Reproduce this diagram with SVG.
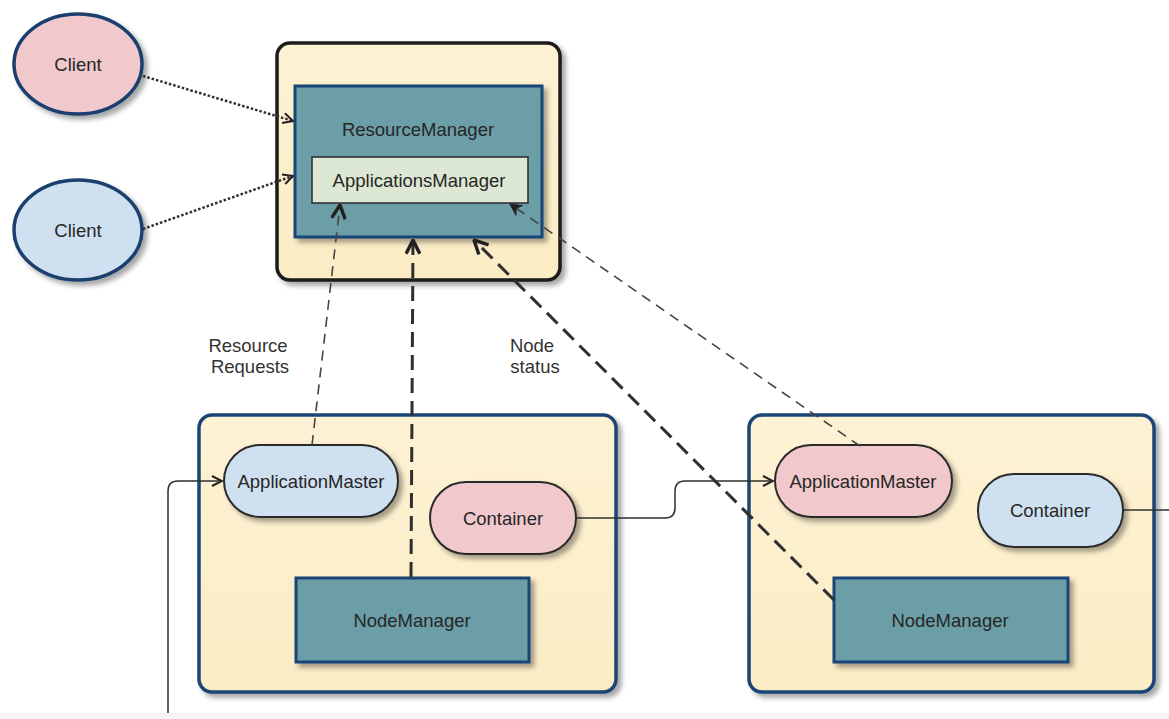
<svg xmlns="http://www.w3.org/2000/svg" width="1169" height="719" viewBox="0 0 1169 719">
<style>
text{font-family:"Liberation Sans",Arial,sans-serif;font-size:18.5px;fill:#262626;text-anchor:middle;dominant-baseline:central}
.lbl{fill:#333}
.host{fill:url(#yel);stroke:#1b4477;stroke-width:3.5}
.rmhost{fill:url(#yel);stroke:#1a1a1a;stroke-width:3.5}
.teal{fill:#6c9ea8;stroke:#1b4477;stroke-width:3}
.am{fill:#dce7d4;stroke:#2a2a2a;stroke-width:1.5}
.pink{fill:#f1c8cb;stroke:#2b2b2b;stroke-width:2}
.blue{fill:#cfe0f1;stroke:#2b2b2b;stroke-width:2}
.cl{stroke:#1b3f6e;stroke-width:3.5}
.conn{fill:none;stroke:#2f2f2f}
.dot{stroke-width:2.5;stroke-dasharray:2.5 2}
.thin{stroke-width:1.6;stroke-dasharray:10 7;stroke:#444}
.thick{stroke-width:3;stroke-dasharray:15 8}
.solid{stroke-width:1.5}
</style>
<defs>
<linearGradient id="yel" x1="0" y1="0" x2="0" y2="1">
<stop offset="0" stop-color="#fdf2d4"/>
<stop offset="1" stop-color="#fbecc4"/>
</linearGradient>
<filter id="sh" x="-10%" y="-10%" width="130%" height="130%">
<feDropShadow dx="4" dy="4" stdDeviation="2.5" flood-color="#000" flood-opacity="0.35"/>
</filter>
<marker id="arr" viewBox="0 0 12 12" refX="11" refY="6" markerWidth="12" markerHeight="12" markerUnits="userSpaceOnUse" orient="auto">
<path d="M1,1 L11,6 L1,11" fill="none" stroke="#222" stroke-width="2"/>
</marker>
<marker id="arrB" viewBox="0 0 14 14" refX="13" refY="7" markerWidth="16" markerHeight="16" markerUnits="userSpaceOnUse" orient="auto">
<path d="M1,1 L13,7 L1,13" fill="none" stroke="#222" stroke-width="3"/>
</marker>
<marker id="arrF" viewBox="0 0 12 12" refX="11" refY="6" markerWidth="13" markerHeight="13" markerUnits="userSpaceOnUse" orient="auto">
<path d="M1,1 L11,6 L1,11 L4,6 Z" fill="#222" stroke="#222" stroke-width="1"/>
</marker>
</defs>
<rect x="0" y="713" width="1169" height="6" fill="#f5f5f5"/>

<g id="client1"><ellipse cx="78" cy="64" rx="64" ry="50" fill="#f1c8cb" class="cl" filter="url(#sh)"/><text x="78" y="64">Client</text></g>
<g id="client2"><ellipse cx="78" cy="230" rx="64" ry="50" fill="#cfe0f1" class="cl" filter="url(#sh)"/><text x="78" y="230">Client</text></g>

<g id="rm-host"><rect x="277" y="43" width="283" height="237" rx="13" class="rmhost" filter="url(#sh)"/></g>
<g id="resourcemanager"><rect x="295" y="86" width="247" height="151" class="teal" filter="url(#sh)"/><text x="418" y="129">ResourceManager</text></g>
<g id="applicationsmanager"><rect x="312" y="157" width="216" height="46" class="am"/><text x="419" y="180">ApplicationsManager</text></g>

<g id="node1-host"><rect x="199" y="415" width="417" height="277" rx="13" class="host" filter="url(#sh)"/></g>
<g id="am1"><rect x="224" y="445" width="174" height="72" rx="36" class="blue" filter="url(#sh)"/><text x="311" y="481">ApplicationMaster</text></g>
<g id="container1"><rect x="430" y="482" width="146" height="72" rx="36" class="pink" filter="url(#sh)"/><text x="503" y="518">Container</text></g>
<g id="nm1"><rect x="296" y="578" width="233" height="84" class="teal" filter="url(#sh)"/><text x="412" y="620">NodeManager</text></g>

<g id="node2-host"><rect x="749" y="415" width="405" height="277" rx="13" class="host" filter="url(#sh)"/></g>
<g id="am2"><rect x="775" y="445" width="177" height="72" rx="36" class="pink" filter="url(#sh)"/><text x="863" y="481">ApplicationMaster</text></g>
<g id="container2"><rect x="978" y="474" width="145" height="73" rx="36" class="blue" filter="url(#sh)"/><text x="1050" y="510">Container</text></g>
<g id="nm2"><rect x="834" y="578" width="234" height="84" class="teal" filter="url(#sh)"/><text x="950" y="620">NodeManager</text></g>

<g id="connectors">
<path class="conn dot" d="M143,76 L293,121" marker-end="url(#arr)"/>
<path class="conn dot" d="M143,229 L293,176" marker-end="url(#arr)"/>
<path class="conn thin" d="M312,445 L340,205" marker-end="url(#arrB)"/>
<path class="conn thick" d="M411,577 L413,240" marker-end="url(#arrB)"/>
<path class="conn thick" d="M834,600 L474,240" marker-end="url(#arrB)"/>
<path class="conn thin" d="M860,446 L510,204" marker-end="url(#arrF)"/>
<path class="conn solid" d="M576,518 L665,518 Q675,518 675,508 L675,491 Q675,481 685,481 L773,481" marker-end="url(#arr)"/>
<path class="conn solid" d="M1123,510 L1169,510"/>
<path class="conn solid" d="M168,713 L168,491 Q168,481 178,481 L222,481" marker-end="url(#arr)"/>
</g>

<g id="labels">
<text class="lbl" x="248" y="345">Resource</text>
<text class="lbl" x="250" y="366">Requests</text>
<text class="lbl" x="532" y="345">Node</text>
<text class="lbl" x="535" y="366">status</text>
</g>
</svg>
